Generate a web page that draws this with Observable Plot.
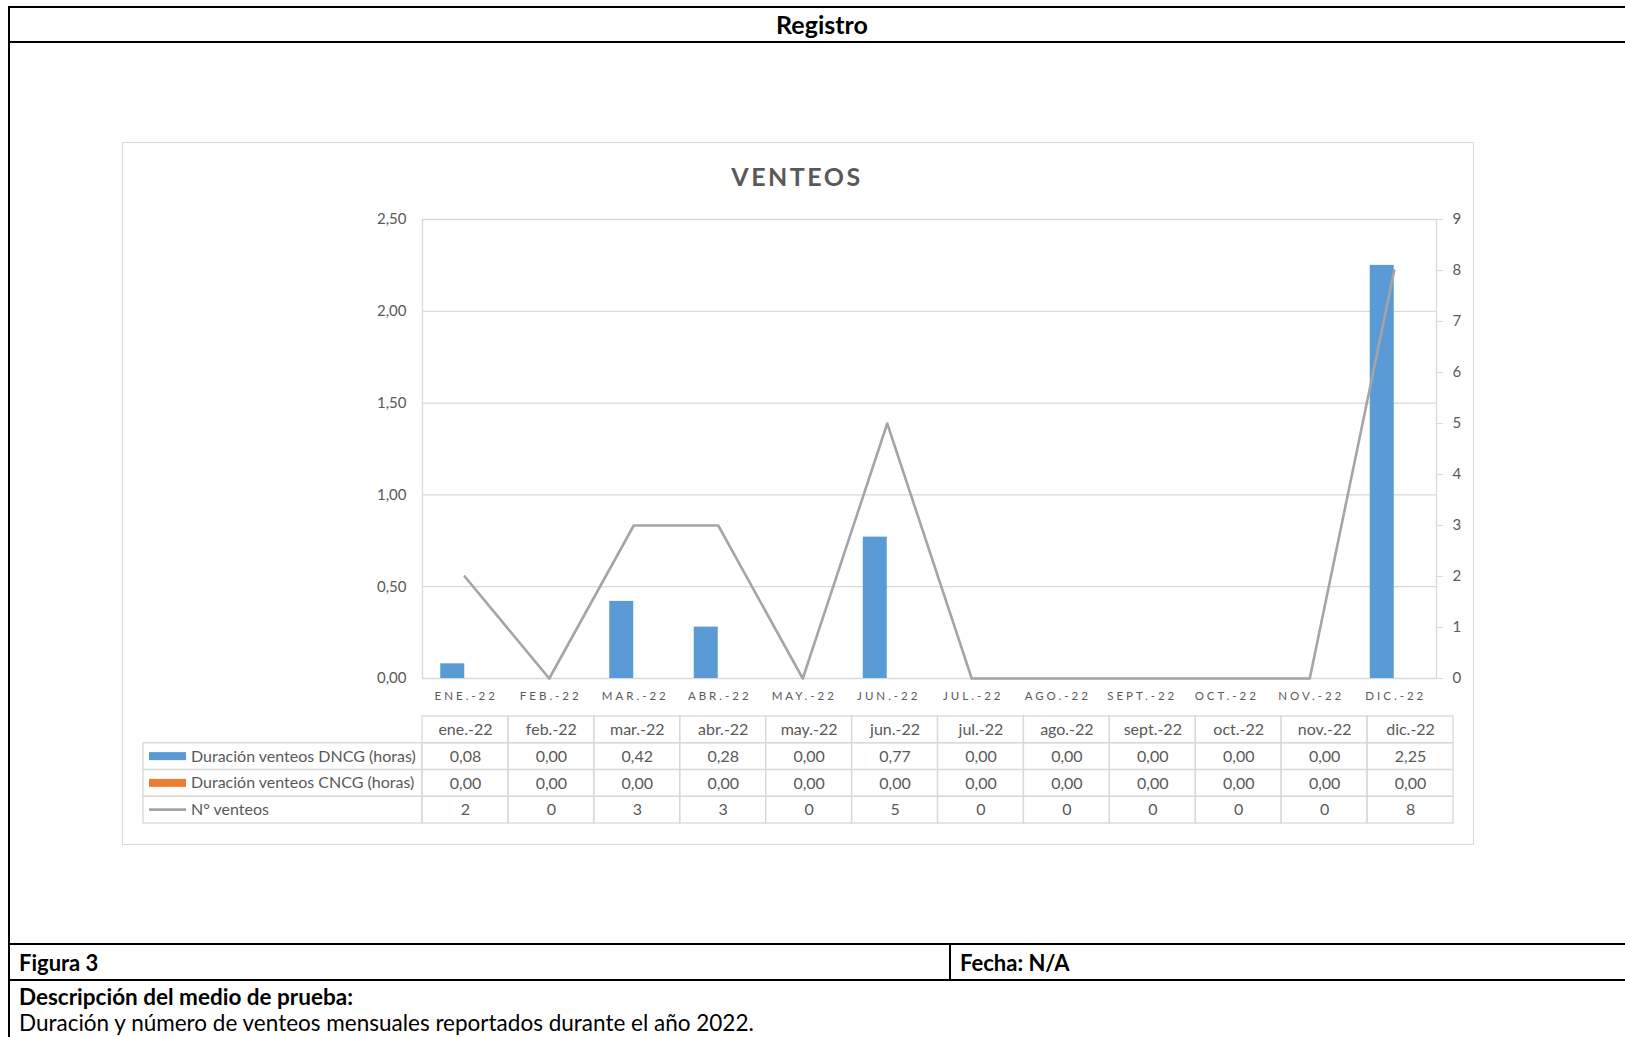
<!DOCTYPE html>
<html><head><meta charset="utf-8">
<script src="https://cdn.jsdelivr.net/npm/d3@7"></script>
<script src="https://cdn.jsdelivr.net/npm/@observablehq/plot@0.6"></script>
<style>
body{margin:0;background:#fff;font-family:Lato,"Open Sans",sans-serif;}
#page{position:relative;width:1625px;height:1037px;overflow:hidden;background:#fff;}
.ln{position:absolute;background:#000;}
.txt{position:absolute;white-space:nowrap;line-height:1;color:#000;}
#chartbox{position:absolute;left:122px;top:142px;width:1350px;height:701px;border:1.5px solid #d9d9d9;}
#title{position:absolute;left:597px;width:400px;top:161px;text-align:center;font-weight:700;font-size:25px;letter-spacing:2.5px;color:#595959;}
#main{position:absolute;left:122px;top:195px;}
#table{position:absolute;left:122px;top:711px;}
</style></head>
<body><div id="page">
<div class="ln" style="left:8px;top:6px;width:1617px;height:2px"></div>
<div class="ln" style="left:8px;top:6px;width:2px;height:1031px"></div>
<div class="ln" style="left:8px;top:41px;width:1617px;height:2px"></div>
<div class="txt" style="left:0;width:1644px;top:12px;text-align:center;font-weight:700;font-size:25px">Registro</div>
<div id="chartbox"></div>
<div id="title">VENTEOS</div>
<div id="main"></div>
<div id="table"></div>
<div class="ln" style="left:8px;top:943px;width:1617px;height:2px"></div>
<div class="ln" style="left:949px;top:943px;width:2px;height:38px"></div>
<div class="ln" style="left:8px;top:979px;width:1617px;height:2px"></div>
<div class="txt" style="left:19px;top:952px;font-weight:700;font-size:22px">Figura 3</div>
<div class="txt" style="left:960px;top:952px;font-weight:700;font-size:22px">Fecha: N/A</div>
<div class="txt" style="left:19px;top:986px;font-weight:700;font-size:22.5px">Descripción del medio de prueba:</div>
<div class="txt" style="left:19px;top:1012px;font-size:22.5px">Duración y número de venteos mensuales reportados durante el año 2022.</div>
</div>
<script>
const months = ["ene.-22","feb.-22","mar.-22","abr.-22","may.-22","jun.-22","jul.-22","ago.-22","sept.-22","oct.-22","nov.-22","dic.-22"];
const dncg = [0.08,0.00,0.42,0.28,0.00,0.77,0.00,0.00,0.00,0.00,0.00,2.25];
const cncg = [0,0,0,0,0,0,0,0,0,0,0,0];
const nVenteos = [2,0,3,3,0,5,0,0,0,0,0,8];
const leftTicks = [0,0.5,1,1.5,2,2.5];
const rightTicks = [0,1,2,3,4,5,6,7,8,9];
const seriesNames = ["Duración venteos DNCG (horas)","Duración venteos CNCG (horas)","N° venteos"];
const seriesColors = ["#5b9bd5","#ed7d31","#a5a5a5"];

const leftMax = 2.5, rightMax = 9;
const fmt2 = v => v.toFixed(2).replace(".", ",");
const data = months.map((m,i)=>({month:m, dncg:dncg[i], cncg:cncg[i], n:nVenteos[i]}));

const W = 1352, ML = 300, MR = 38;
const bw = (W-ML-MR)/months.length;
const barW = 24;
const innerGap = bw/2 - barW;

const main = Plot.plot({
  width: W, height: 520, marginLeft: ML, marginRight: MR, marginTop: 24, marginBottom: 37,
  style: {fontFamily: "Lato, sans-serif", color: "#595959", fontSize: "15px", background: "transparent"},
  x: {type: "band", domain: months, padding: 0, round: false},
  y: {domain: [0, leftMax]},
  marks: [
    Plot.gridY(leftTicks, {stroke: "#d9d9d9", strokeOpacity: 1, strokeWidth: 1.3}),
    Plot.frame({anchor: "left", stroke: "#d9d9d9", strokeWidth: 1.3}),
    Plot.frame({anchor: "right", stroke: "#d9d9d9", strokeWidth: 1.3}),
    Plot.barY(data, {x: "month", y: "dncg", fill: seriesColors[0], insetLeft: innerGap, insetRight: bw/2}),
    Plot.barY(data, {x: "month", y: "cncg", fill: seriesColors[1], insetLeft: bw/2, insetRight: innerGap}),
    Plot.line(data, {x: "month", y: d => d.n*leftMax/rightMax, stroke: seriesColors[2], strokeWidth: 2.6}),
    Plot.axisY(leftTicks, {anchor: "left", tickSize: 0, tickPadding: 16, tickFormat: fmt2, fontSize: 15, label: null, fill: "#595959"}),
    Plot.axisY(rightTicks.map(v => v*leftMax/rightMax), {anchor: "right", tickSize: 6, tickPadding: 10, stroke: "#d9d9d9", fill: "#595959",
      tickFormat: d => String(Math.round(d*rightMax/leftMax)), fontSize: 15, label: null}),
    Plot.axisX({tickSize: 0, tickPadding: 13, tickFormat: d => d.toUpperCase(), fontSize: 11.5, label: null, fill: "#595959"})
  ]
});
d3.select(main).selectAll('g[aria-label="x-axis tick label"] text').attr("letter-spacing", "3px").attr("dx", "1.5px");
document.getElementById("main").appendChild(main);

// data table
const rows = ["hdr","DNCG","CNCG","N"];
const tableData = [];
months.forEach((m,i)=>{
  tableData.push({row:"hdr", month:m, text:m});
  tableData.push({row:"DNCG", month:m, text:fmt2(dncg[i])});
  tableData.push({row:"CNCG", month:m, text:fmt2(cncg[i])});
  tableData.push({row:"N", month:m, text:String(nVenteos[i])});
});
const TML = 300, TMR = 21;
const table = Plot.plot({
  width: W, height: 117, marginLeft: TML, marginRight: TMR, marginTop: 5, marginBottom: 5,
  style: {fontFamily: "Lato, sans-serif", color: "#595959", fontSize: "16px", background: "transparent"},
  x: {type: "band", domain: months, padding: 0, round: false, axis: null},
  y: {type: "band", domain: rows, padding: 0, round: false, axis: null},
  marks: [
    Plot.cell(tableData, {x: "month", y: "row", fill: "none", stroke: "#d9d9d9", strokeWidth: 1.3, inset: 0}),
    Plot.text(tableData, {x: "month", y: "row", text: "text", fill: "#595959", fontSize: 16})
  ]
});
{
  const ys = table.scale("y");
  const svg = d3.select(table);
  const g = svg.append("g").attr("text-anchor", "start");
  const x0 = 21;
  seriesNames.forEach((name, k) => {
    const r = rows[k+1];
    const top = ys.apply(r), h = ys.bandwidth;
    g.append("rect").attr("x", x0).attr("y", top).attr("width", TML - x0).attr("height", h)
      .attr("fill", "none").attr("stroke", "#d9d9d9").attr("stroke-width", 1.3);
    const cy = top + h/2;
    if (k < 2) {
      g.append("rect").attr("x", x0+6).attr("y", cy-4).attr("width", 37).attr("height", 8).attr("fill", seriesColors[k]);
    } else {
      g.append("line").attr("x1", x0+6).attr("x2", x0+43).attr("y1", cy).attr("y2", cy)
        .attr("stroke", seriesColors[k]).attr("stroke-width", 2.6);
    }
    g.append("text").attr("x", x0+48).attr("y", cy).attr("dy", "0.35em").attr("fill", "#595959")
      .attr("text-anchor", "start").attr("font-size", 16).attr("font-family", "Lato, sans-serif").text(name);
  });
}
document.getElementById("table").appendChild(table);
</script>
</body></html>
